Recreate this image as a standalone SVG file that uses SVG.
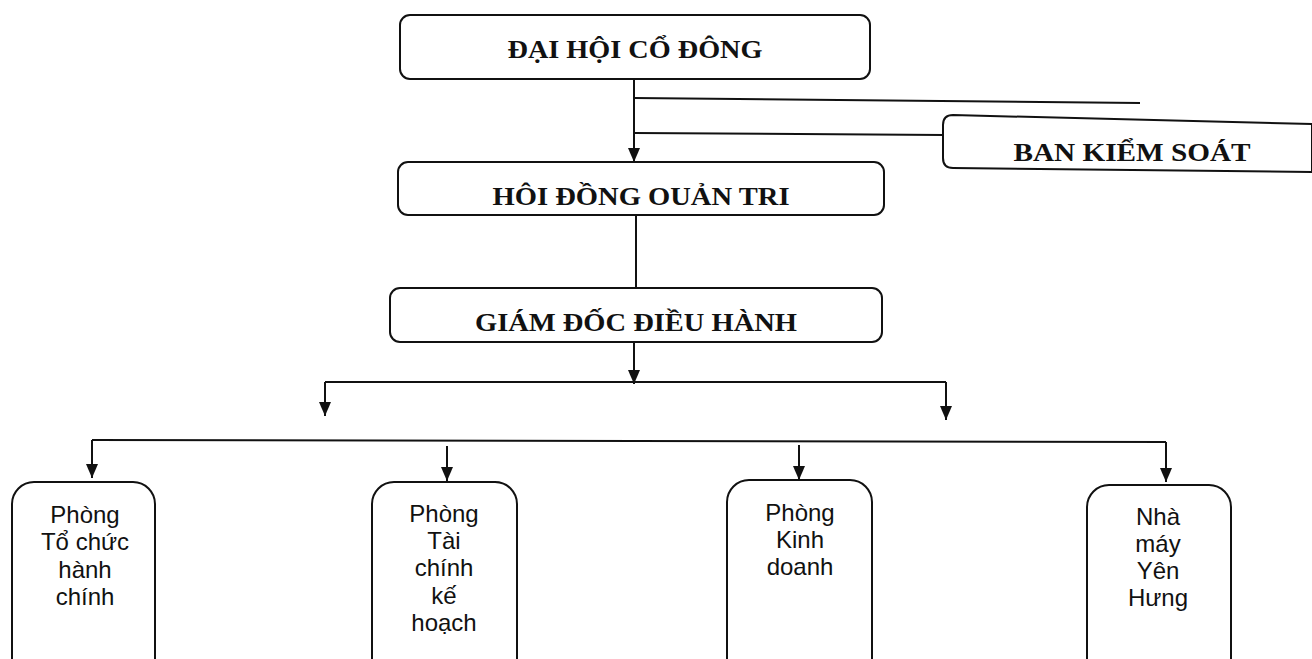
<svg xmlns="http://www.w3.org/2000/svg" width="1312" height="659" viewBox="0 0 1312 659">
<style>
.box{fill:#fff;stroke:#111;stroke-width:2}
.t{font-family:"Liberation Sans",serif;font-family:"Liberation Serif",serif;font-size:26px;font-weight:bold;fill:#111;text-anchor:middle}
.s{font-family:"Liberation Sans",Arial,sans-serif;font-size:24px;fill:#111;text-anchor:middle}
.c{fill:none;stroke:#111;stroke-width:2}
</style>
<defs>
<marker id="dn" markerWidth="12" markerHeight="14" refX="6" refY="14" orient="0" markerUnits="userSpaceOnUse" viewBox="0 0 12 14">
<path d="M0,0 L12,0 L6,14 Z" fill="#111"/>
</marker>
</defs>
<rect width="1312" height="659" fill="#fff"/>
<g id="connectors">
<path class="c" d="M634,79 V162" marker-end="url(#dn)"/>
<path class="c" d="M634,98 L1140,103"/>
<path class="c" d="M634,133 L944,135"/>
<path class="c" d="M636,215 V288"/>
<path class="c" d="M634,342 V384" marker-end="url(#dn)"/>
<path class="c" d="M325,382 H946"/>
<path class="c" d="M325,382 V416" marker-end="url(#dn)"/>
<path class="c" d="M946,382 V420" marker-end="url(#dn)"/>
<path class="c" d="M92,440 L1166,442"/>
<path class="c" d="M92,440 V478" marker-end="url(#dn)"/>
<path class="c" d="M447,446 V481" marker-end="url(#dn)"/>
<path class="c" d="M799,445 V480" marker-end="url(#dn)"/>
<path class="c" d="M1166,442 V482" marker-end="url(#dn)"/>
</g>
<g id="dai-hoi">
<rect class="box" x="400" y="15" width="470" height="64" rx="10"/>
<text class="t" x="635" y="58" textLength="255" lengthAdjust="spacingAndGlyphs">ĐẠI HỘI CỔ ĐÔNG</text>
</g>
<g id="ban-kiem-soat">
<path class="box" d="M953,115 L1312,124 L1312,172 L953,168 Q943,168 943,158 L943,125 Q943,115 953,115 Z"/>
<text class="t" x="1132" y="161" textLength="237" lengthAdjust="spacingAndGlyphs">BAN KIỂM SOÁT</text>
</g>
<g id="hoi-dong">
<rect class="box" x="398" y="162" width="486" height="53" rx="10"/>
<text class="t" x="641" y="205" textLength="297" lengthAdjust="spacingAndGlyphs">HÔI ĐỒNG OUẢN TRI</text>
</g>
<g id="giam-doc">
<rect class="box" x="390" y="288" width="492" height="54" rx="10"/>
<text class="t" x="636" y="331" textLength="322" lengthAdjust="spacingAndGlyphs">GIÁM ĐỐC ĐIỀU HÀNH</text>
</g>
<g id="to-chuc">
<rect class="box" x="12" y="482" width="143" height="200" rx="22"/>
<text class="s" x="85" y="523">Phòng</text>
<text class="s" x="85" y="550">Tổ chức</text>
<text class="s" x="85" y="578">hành</text>
<text class="s" x="85" y="605">chính</text>
</g>
<g id="tai-chinh">
<rect class="box" x="372" y="482" width="145" height="200" rx="22"/>
<text class="s" x="444" y="522">Phòng</text>
<text class="s" x="444" y="549">Tài</text>
<text class="s" x="444" y="576">chính</text>
<text class="s" x="444" y="604">kế</text>
<text class="s" x="444" y="631">hoạch</text>
</g>
<g id="kinh-doanh">
<rect class="box" x="727" y="480" width="145" height="200" rx="22"/>
<text class="s" x="800" y="521">Phòng</text>
<text class="s" x="800" y="548">Kinh</text>
<text class="s" x="800" y="575">doanh</text>
</g>
<g id="nha-may">
<rect class="box" x="1087" y="485" width="144" height="200" rx="22"/>
<text class="s" x="1158" y="525">Nhà</text>
<text class="s" x="1158" y="552">máy</text>
<text class="s" x="1158" y="579">Yên</text>
<text class="s" x="1158" y="606">Hưng</text>
</g>
</svg>
